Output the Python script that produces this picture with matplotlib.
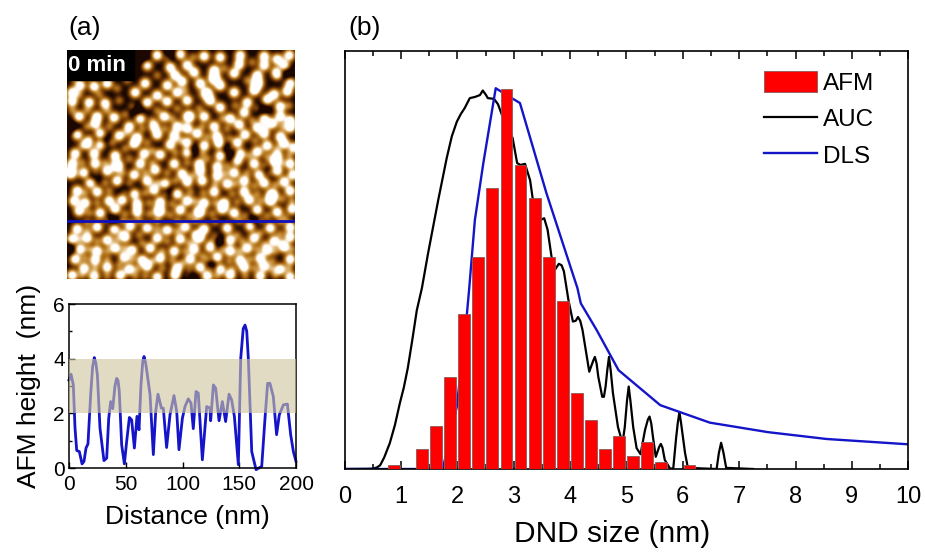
import numpy as np
import matplotlib
matplotlib.use("Agg")
import matplotlib.pyplot as plt
from matplotlib.colors import LinearSegmentedColormap

plt.rcParams["font.family"] = ["Liberation Sans", "DejaVu Sans"]

# (b) size distributions
bar_x = [0.87, 1.37, 1.62, 1.87, 2.12, 2.37, 2.62, 2.87, 3.12, 3.37, 3.62, 3.87,
         4.12, 4.37, 4.62, 4.87, 5.12, 5.37, 5.62, 6.12]
bar_h = [1.0, 5.2, 11.3, 24.2, 40.8, 55.8, 73.9, 100, 80, 71.3, 55.8, 44.2,
         20, 13, 5.3, 8.7, 3.4, 7.1, 1.8, 1.0]

auc_x = [0, 0.4, 0.5, 0.57, 0.63, 0.70, 0.80, 0.89, 0.98, 1.05, 1.12, 1.20, 1.28, 1.37, 1.48, 1.66,
         1.81, 1.90, 1.99, 2.06, 2.13, 2.22, 2.31, 2.40, 2.45, 2.50, 2.54, 2.65, 2.72, 2.79, 2.98,
         3.06, 3.12, 3.20, 3.29, 3.34, 3.47, 3.54, 3.60, 3.67, 3.73, 3.80, 3.85, 3.89, 3.97, 4.05,
         4.10, 4.14, 4.18, 4.22, 4.34, 4.41, 4.44, 4.47, 4.50, 4.57, 4.60, 4.63, 4.66, 4.69, 4.72,
         4.76, 4.85, 4.93, 4.97, 5.01, 5.04, 5.07, 5.12, 5.18, 5.25, 5.33, 5.38, 5.41, 5.44, 5.47,
         5.52, 5.58, 5.61, 5.64, 5.68, 5.77, 5.83, 5.88, 5.91, 5.94, 5.97, 6.04, 6.09, 6.60, 6.64,
         6.68, 6.72, 6.77, 7.25]
auc_y = [0, 0.05, 0.1, 0.4, 1.0, 3, 6.8, 11.5, 17.4, 21.5, 26.6, 34, 41.8, 47.6, 56.8, 70.8,
         81.8, 87.5, 91.4, 93.4, 95, 97.6, 97.9, 98.4, 99.6, 98.6, 97.6, 97.4, 96, 93.2, 87.1,
         80.5, 80, 80.3, 76, 70.8, 65.5, 66, 63, 55.9, 52.4, 54, 53.6, 52, 44.5, 38.8,
         39, 40, 39, 36.6, 25.6, 28.5, 29.5, 27.8, 24.3, 19, 19, 21.7, 26, 29.5, 26,
         20, 11, 6.8, 11, 18, 21.7, 18, 11, 5.5, 3.9, 10.3, 13, 13.8, 12, 8.5,
         3.2, 5.8, 6.6, 5.6, 2.4, 0.2, 0, 8, 12, 15, 12, 4.2, 0.3, 0, 4.2,
         6.9, 4.4, 0.3, 0]

dls_x = [0, 1.74, 1.99, 2.17, 2.21, 2.31, 2.46, 2.68, 3.11, 3.58, 4.13, 4.19, 4.47, 4.86,
         5.60, 6.48, 7.51, 8.55, 10.0]
dls_y = [0, 0, 16.4, 41, 47.6, 65.5, 80.5, 100.2, 96.3, 72.6, 47.6, 43.6, 36.6, 26,
         16.8, 12.2, 9.7, 7.9, 6.5]

# (a) height profile along the blue line
prof_x = [0, 1.8, 3.8, 5.3, 6.8, 9.1, 11.5, 13.2, 15, 16.7, 19.1, 20.8, 22.3, 23.6, 25, 27.3, 30.8, 33.2,
          35, 36.7, 38.5, 40.5, 42, 43.2, 44.3, 46.4, 48.8, 50.8, 53.2, 55.2, 57.6, 59.9, 61.7, 63.4,
          65, 66.1, 67.5, 69, 71.4, 74.3, 76.4, 78.4, 81.4, 83.1, 86, 89, 92.5, 94.9, 96.9, 99.9,
          102.2, 105.1, 107.5, 109.5, 111.9, 113.9, 117.5, 121.3, 124.2, 124.8, 127.2,
          129.2, 132.2, 135.1, 138, 141, 143.3, 145.7, 149.2, 151.3, 153.5, 155.1, 156.6, 158, 161,
          164.8, 169.8, 172.7, 175, 177, 180, 182.9, 185.3, 188.9, 192.4, 195.3, 197.7, 200]
prof_y = [3.22, 3.43, 3.04, 1.46, 0.64, 0.6, 0.15, 0.24, 0.73, 0.88, 2.68, 3.7, 4.04, 3.85, 3.41, 1.46,
          0.27, 0.36, 1.82, 2.43, 2.17, 3.0, 3.28, 3.2, 2.8, 0.85, 0.15, 0.97, 1.85, 1.76, 0.73, 1.89,
          1.4, 3.04, 3.9, 4.08, 3.85, 3.41, 2.68, 0.49, 2.07, 2.7, 2.19, 2.19, 0.75, 1.95, 2.65, 2.07,
          0.67, 1.82, 2.25, 2.53, 2.37, 1.44, 2.8, 2.74, 0.3, 2.25, 2.19, 1.73, 3.04, 2.92,
          1.73, 2.43, 1.7, 2.7, 2.49, 1.89, 0.12, 4.01, 5.1, 5.23, 5.0, 4.01, 0.6, -0.06, 0.06, 1.82,
          3.1, 3.1, 2.62, 1.22, 1.95, 2.31, 2.34, 1.22, 0.6, 0.24]

# (a) grains picked off the AFM image, position in a 0-228 scan frame
grains = [(90, 5), (113, 4), (137, 6), (153, 7), (173, 5), (197, 6), (210, 9), (222, 5),
          (80, 15), (103, 17), (120, 15), (147, 20), (172, 14), (197, 15), (217, 15),
          (108, 25), (127, 22), (147, 28), (167, 23), (190, 25), (210, 24),
          (78, 33), (100, 35), (115, 31), (133, 33), (153, 35), (190, 33), (223, 33),
          (13, 35), (40, 33), (27, 36), (68, 42), (110, 42), (90, 45), (140, 43), (167, 42),
          (187, 40), (207, 44), (220, 41), (5, 42),
          (5, 51), (22, 52), (38, 53), (80, 52), (100, 51), (120, 50), (143, 50), (153, 57),
          (180, 52), (200, 49), (213, 56),
          (12, 66), (30, 66), (47, 67), (73, 68), (97, 66), (122, 66), (137, 66), (163, 68),
          (177, 62), (197, 68), (213, 66), (223, 70),
          (28, 73), (62, 76), (87, 76), (110, 76), (120, 78), (147, 76), (172, 74), (190, 77),
          (205, 73), (223, 77),
          (10, 84), (33, 83), (52, 85), (70, 87), (90, 84), (107, 85), (130, 83), (150, 86),
          (178, 84), (197, 83), (213, 86),
          (20, 93), (33, 94), (67, 93), (103, 94), (120, 92), (137, 95), (152, 93), (170, 92),
          (200, 95), (217, 93), (227, 97),
          (8, 103), (27, 103), (48, 105), (77, 103), (93, 104), (120, 102), (153, 105),
          (173, 103), (190, 101), (210, 105),
          (5, 113), (28, 113), (50, 115), (73, 113), (107, 113), (132, 113), (150, 116),
          (170, 110), (187, 113), (207, 111), (223, 113),
          (3, 122), (17, 122), (40, 120), (67, 124), (88, 119), (115, 123), (133, 120),
          (150, 125), (167, 122), (192, 124), (210, 120), (226, 124),
          (23, 132), (50, 130), (80, 130), (98, 133), (120, 131), (135, 130), (160, 133),
          (177, 130), (197, 132), (217, 131),
          (10, 140), (30, 141), (67, 143), (87, 139), (110, 143), (147, 141), (177, 141),
          (205, 144), (223, 140),
          (7, 150), (18, 152), (42, 150), (55, 149), (70, 153), (93, 151), (120, 150),
          (137, 152), (157, 152), (182, 149), (203, 150),
          (12, 160), (33, 162), (48, 158), (70, 161), (92, 160), (113, 159), (132, 161),
          (155, 158), (167, 162), (190, 159), (210, 161), (225, 158),
          (10, 178), (30, 176), (47, 178), (63, 175), (80, 177), (100, 179), (118, 176),
          (137, 178), (160, 177), (183, 175), (203, 177), (223, 176),
          (5, 188), (20, 187), (40, 189), (58, 186), (90, 187), (113, 188), (132, 186),
          (163, 189), (187, 187), (207, 190), (223, 186),
          (13, 198), (30, 200), (48, 197), (65, 199), (83, 197), (107, 200), (127, 198),
          (143, 196), (163, 200), (180, 197), (200, 199), (217, 196),
          (8, 208), (28, 209), (57, 206), (75, 209), (93, 207), (123, 208), (150, 206),
          (173, 209), (193, 207), (223, 208),
          (17, 217), (40, 216), (62, 218), (80, 215), (110, 217), (133, 216), (153, 218),
          (177, 216), (197, 215), (213, 218),
          (5, 224), (27, 225), (53, 224), (90, 226), (108, 224), (140, 225), (163, 224),
          (193, 225), (223, 226)]
big_grains = [(50, 115), (190, 33), (147, 28), (120, 66), (137, 43), (205, 144), (132, 161),
              (130, 186), (92, 160), (5, 122)]
# dimmer grains that sit in the gaps between the bright ones
dim_grains = [(100, 8), (126, 7), (185, 12), (208, 20), (90, 25), (118, 40), (157, 18), (180, 30),
              (8, 28), (22, 26), (50, 38), (60, 30), (42, 22), (12, 44), (32, 44), (52, 50), (65, 56),
              (90, 60), (110, 58), (132, 58), (168, 55), (190, 58), (222, 55), (5, 60), (20, 60), (40, 60),
              (58, 64), (85, 70), (105, 68), (155, 68), (185, 70), (20, 76), (42, 76), (75, 78), (98, 78),
              (135, 76), (160, 78), (198, 76), (215, 76), (22, 88), (45, 92), (60, 82), (80, 92),
              (113, 90), (140, 86), (162, 88), (188, 90), (210, 98), (15, 95), (58, 98), (85, 100), (108, 102),
              (135, 103), (163, 98), (182, 105), (200, 106), (222, 104), (15, 112), (38, 112), (62, 108),
              (85, 112), (120, 112), (140, 108), (160, 115), (197, 115), (214, 112), (28, 122), (55, 122), (78, 122),
              (100, 122), (125, 125), (158, 123), (180, 122), (202, 122), (38, 132), (62, 133), (90, 132), (108, 130),
              (148, 133), (168, 133), (187, 135), (208, 134), (18, 142), (42, 140), (58, 141), (78, 142), (98, 143),
              (123, 141), (136, 142), (165, 143), (190, 143), (215, 148), (30, 152), (82, 152), (105, 153), (128, 150),
              (148, 152), (170, 151), (193, 150), (225, 150), (22, 162), (58, 163), (82, 163), (103, 164), (122, 165),
              (145, 163), (178, 165), (200, 165), (218, 167), (20, 172), (40, 170), (55, 170), (72, 170), (90, 170),
              (110, 170), (128, 170), (148, 171), (172, 170), (193, 170), (213, 171), (20, 180), (55, 182), (72, 184),
              (90, 178), (110, 180), (128, 183), (148, 185), (170, 184), (193, 182), (213, 183), (12, 188), (30, 190),
              (50, 188), (75, 192), (100, 190), (122, 192), (145, 190), (175, 190), (197, 193), (215, 192),
              (22, 198), (40, 200), (57, 197), (95, 200), (118, 200), (135, 205), (155, 198), (172, 200),
              (190, 198), (208, 200), (225, 198), (18, 207), (40, 208), (65, 208), (85, 210), (105, 209), (115, 212),
              (140, 208), (162, 210), (183, 208), (205, 210), (28, 217), (52, 214), (70, 218), (95, 217), (122, 218),
              (143, 218), (165, 218), (187, 217), (205, 218), (222, 217), (15, 224), (40, 225), (68, 225), (78, 225),
              (120, 225), (150, 225), (178, 225), (208, 224)]
dark_spots = [(103, 5), (77, 10), (35, 90), (5, 78), (160, 97), (167, 105), (187, 170), (3, 197),
              (150, 190), (25, 125), (218, 22), (70, 60), (100, 140), (200, 120), (120, 225),
              (60, 140), (45, 170), (195, 60), (125, 100), (145, 215)]

legend_labels = ["AFM", "AUC", "DLS"]

blue = "#1414c8"
fig = plt.figure(figsize=(9.25, 5.52), dpi=100)

# AFM image
ax_img = fig.add_axes([67 / 925, 1 - 279 / 552, 228 / 925, 229 / 552])
gx, gy = np.meshgrid(np.arange(0, 228, 0.5), np.arange(0, 228, 0.5))
field = np.full(gx.shape, 0.08)
for cx, cy in grains:
    field += 0.92 * np.exp(-((gx - cx) ** 2 + (gy - cy) ** 2) / (2 * 3.8 ** 2))
for cx, cy in dim_grains:
    field += 0.32 * np.exp(-((gx - cx) ** 2 + (gy - cy) ** 2) / (2 * 3.3 ** 2))
for cx, cy in big_grains:
    field += 0.35 * np.exp(-((gx - cx) ** 2 + (gy - cy) ** 2) / (2 * 5.0 ** 2))
for cx, cy in dark_spots:
    field -= 0.28 * np.exp(-((gx - cx) ** 2 + (gy - cy) ** 2) / (2 * 5.0 ** 2))
afm_cmap = LinearSegmentedColormap.from_list(
    "afm", ["#1c0800", "#7a3f08", "#b87a20", "#e0b878", "#fff8ee", "#ffffff"])
ax_img.imshow(field, cmap=afm_cmap, vmin=0.12, vmax=0.95, extent=[0, 228, 228, 0], aspect="auto")
ax_img.axhline(170, color="#1010c0", lw=2)
ax_img.add_patch(plt.Rectangle((0, 0), 67, 30, color="black", zorder=3))
ax_img.text(0.5, 15.5, "0 min", color="white", fontsize=16, fontweight="bold", va="center", zorder=4)
ax_img.set_xlim(0, 228)
ax_img.set_ylim(228, 0)
ax_img.set_xticks([])
ax_img.set_yticks([])
for s in ax_img.spines.values():
    s.set_visible(False)

# height profile
ax_a = fig.add_axes([69 / 925, 1 - 468 / 552, 227 / 925, 164 / 552])
ax_a.plot(prof_x, prof_y, color=blue, lw=2.0, zorder=2, clip_on=False, solid_joinstyle="round")
ax_a.axhspan(2, 4, color="#cfc6a0", alpha=0.62, lw=0, zorder=3)
ax_a.set_xlim(0, 200)
ax_a.set_ylim(0, 6)
ax_a.set_xticks([0, 50, 100, 150, 200])
ax_a.set_yticks([0, 2, 4, 6])
ax_a.set_yticks([1, 3, 5], minor=True)
ax_a.tick_params(axis="x", which="major", direction="in", labelsize=15, length=4, width=1, pad=5)
ax_a.tick_params(axis="y", which="major", direction="in", labelsize=15, length=4, width=1, pad=3)
ax_a.tick_params(axis="y", which="minor", direction="in", length=2.5, width=1)
ax_a.set_xlabel("Distance (nm)", fontsize=19, labelpad=8, x=0.52)
ax_a.set_ylabel("AFM height  (nm)", fontsize=19, labelpad=9)
for s in ax_a.spines.values():
    s.set_linewidth(1.1)

# size distributions
ax_b = fig.add_axes([344.7 / 925, 1 - 469 / 552, 563.5 / 925, 418 / 552])
ax_b.plot(auc_x, auc_y, color="black", lw=1.6, zorder=2, label=legend_labels[1])
ax_b.plot(dls_x, dls_y, color=blue, lw=1.7, zorder=2.5, label=legend_labels[2])
ax_b.bar(bar_x, bar_h, width=0.21, color="#fe0000", edgecolor="#8a5a5a", linewidth=0.6, zorder=3,
         label=legend_labels[0])
ax_b.set_xlim(0, 10)
ax_b.set_ylim(0, 110)
ax_b.set_xticks(range(0, 11))
ax_b.set_xticks(np.arange(0.5, 10, 1), minor=True)
ax_b.set_yticks([])
ax_b.tick_params(axis="x", which="major", direction="in", top=True, labelsize=17, length=6, width=1.1, pad=12)
ax_b.tick_params(axis="x", which="minor", direction="in", top=True, length=3.5, width=1.1)
ax_b.set_xlabel("DND size (nm)", fontsize=21.5, labelpad=9, x=0.474)
for s in ax_b.spines.values():
    s.set_linewidth(1.2)
handles, labels = ax_b.get_legend_handles_labels()
order = [labels.index(name) for name in legend_labels]
ax_b.legend([handles[i] for i in order], [labels[i] for i in order], frameon=False, fontsize=17.5,
            loc="upper right", bbox_to_anchor=(0.94, 0.952), handlelength=2.2, handleheight=0.95,
            handletextpad=0.25, labelspacing=0.52, borderpad=0, borderaxespad=0)

fig.text(68 / 925, 1 - 28 / 552, "(a)", fontsize=19, va="center")
fig.text(348 / 925, 1 - 28 / 552, "(b)", fontsize=19, va="center")

fig.savefig("out.png", dpi=100)
